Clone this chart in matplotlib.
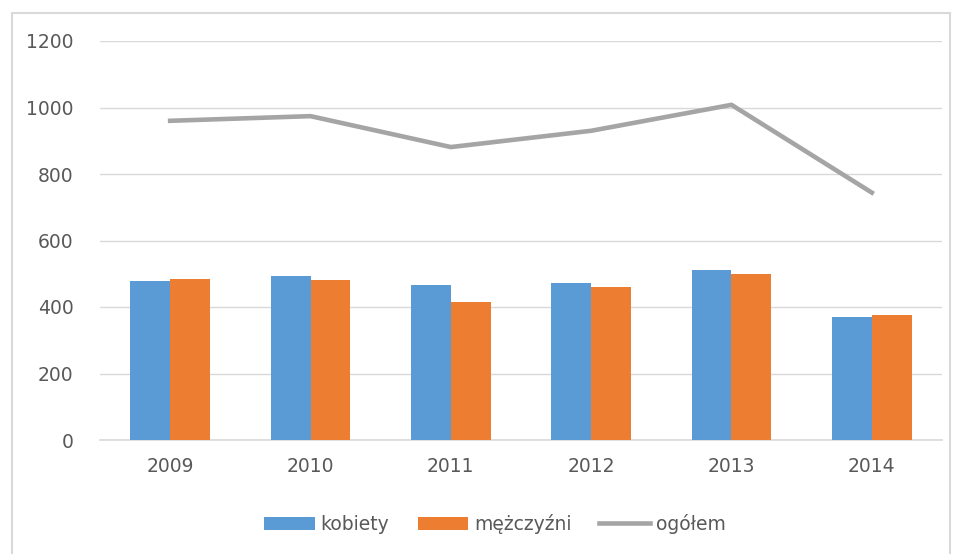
import matplotlib.pyplot as plt
import numpy as np
from matplotlib.patches import Rectangle

# data
years = ["2009", "2010", "2011", "2012", "2013", "2014"]
kobiety = [477, 492, 465, 471, 510, 369]
mezczyzni = [483, 482, 416, 459, 498, 375]
ogolem = [960, 974, 881, 930, 1008, 744]

blue = "#5B9BD5"
orange = "#ED7D31"
gray = "#A5A5A5"
txt = "#595959"

plt.rcParams['font.family'] = ['DejaVu Sans']

fig = plt.figure(figsize=(9.56, 5.54), dpi=100)
ax = fig.add_axes([100/956, 1 - 440/554, 842/956, 399/554])

x = np.arange(len(years))
w = 0.285
b1 = ax.bar(x - w/2, kobiety, w, color=blue, label="kobiety", zorder=2)
b2 = ax.bar(x + w/2, mezczyzni, w, color=orange, label="mężczyźni", zorder=2)
l1, = ax.plot(x, ogolem, color=gray, linewidth=3.3, label="ogółem", zorder=3)

ax.set_xlim(-0.5, len(years) - 0.5)
ax.set_ylim(0, 1200)
ax.set_yticks(range(0, 1201, 200))
ax.set_xticks(x)
ax.set_xticklabels(years)
ax.grid(axis='y', color="#D9D9D9", linewidth=1, zorder=0)
ax.axhline(0, color="#D9D9D9", linewidth=1.2, zorder=1, clip_on=False)
ax.set_axisbelow(True)
for s in ax.spines.values():
    s.set_visible(False)
ax.tick_params(length=0, labelsize=13.5, colors=txt)
ax.tick_params(axis='y', pad=19)
ax.tick_params(axis='x', pad=12)

# outer chart frame
fig.patches.append(Rectangle((12/956, -0.02), 938/956, 1 - 13/554 + 0.02,
                             transform=fig.transFigure, fill=False,
                             edgecolor="#D9D9D9", linewidth=1.5))

fig.legend([b1, b2, l1], ["kobiety", "mężczyźni", "ogółem"],
           loc='center', bbox_to_anchor=(495/956, 1 - 524/554), ncol=3,
           frameon=False, fontsize=13.5, labelcolor=txt,
           handlelength=2.7, handleheight=0.72, handletextpad=0.3,
           columnspacing=1.5)

fig.savefig("out.png", dpi=100)
